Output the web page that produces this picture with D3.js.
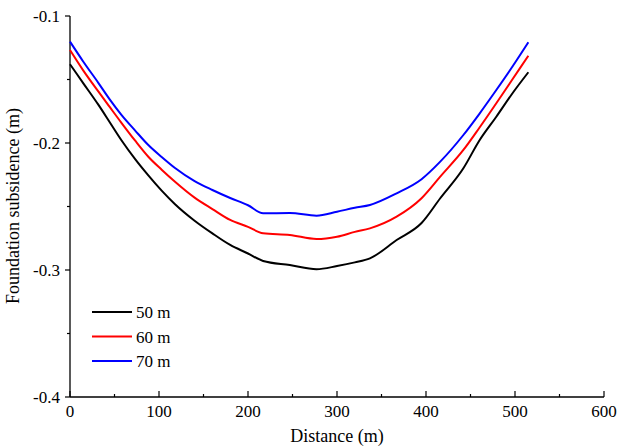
<!DOCTYPE html>
<html>
<head>
<meta charset="utf-8">
<script src="https://cdn.jsdelivr.net/npm/d3@7"></script>
<style>
  body { margin: 0; background: #fff; }
</style>
</head>
<body>
<div class="canva"></div>
<script>
// distance along the section (m)
const distance = [0, 15, 32, 45, 58, 73, 88, 103, 118, 140, 160, 180, 200, 217, 247, 277, 300, 320, 337, 367, 395, 416, 442, 460, 479, 497, 515]
// subsidence (m) for each depth
const s50 = [-0.138, -0.153, -0.170, -0.184, -0.198, -0.2125, -0.2255, -0.2375, -0.2482, -0.2612, -0.2712, -0.2803, -0.287, -0.2929, -0.2961, -0.2994, -0.2969, -0.294, -0.2908, -0.2764, -0.263, -0.2435, -0.2199, -0.198, -0.1793, -0.161, -0.1443]
const s60 = [-0.1268, -0.143, -0.1596, -0.172, -0.1843, -0.198, -0.2108, -0.221, -0.2305, -0.243, -0.252, -0.2606, -0.266, -0.2711, -0.2724, -0.2756, -0.2738, -0.270, -0.2672, -0.258, -0.2435, -0.2265, -0.2055, -0.188, -0.1687, -0.150, -0.1313]
const s70 = [-0.1202, -0.136, -0.1528, -0.166, -0.178, -0.190, -0.2016, -0.211, -0.2197, -0.230, -0.237, -0.2433, -0.249, -0.2554, -0.2551, -0.2572, -0.2541, -0.251, -0.2488, -0.2396, -0.2285, -0.2147, -0.1937, -0.177, -0.1583, -0.140, -0.1207]
const seriesNames = ['50 m', '60 m', '70 m']
const seriesColors = ['#000000', '#ff0000', '#0000ff']
const xTicks = [0, 100, 200, 300, 400, 500, 600]
const yTicks = [-0.1, -0.2, -0.3, -0.4]

const series = [s50, s60, s70]

const svg = d3.select('.canva').append('svg')
    .attr('width', 617)
    .attr('height', 447)
    .attr('font-family', '"Liberation Serif", "Times New Roman", serif')

const x = d3.scaleLinear().domain([0, 600]).range([70, 604])
const y = d3.scaleLinear().domain([-0.4, -0.1]).range([397, 16])

//x axis, ticks pointing inward
const xAxis = svg.append('g').attr('transform', 'translate(0,397)')
xAxis.append('line')
    .attr('x1', x(0)).attr('x2', x(600))
    .attr('stroke', '#000').attr('stroke-width', 1.3)
xAxis.selectAll('.major').data(xTicks).enter().append('line')
    .attr('x1', d => x(d)).attr('x2', d => x(d))
    .attr('y1', 0).attr('y2', -6)
    .attr('stroke', '#000').attr('stroke-width', 1.2)
xAxis.selectAll('.minor').data(d3.range(50, 600, 100)).enter().append('line')
    .attr('x1', d => x(d)).attr('x2', d => x(d))
    .attr('y1', 0).attr('y2', -3)
    .attr('stroke', '#000').attr('stroke-width', 1.2)
xAxis.selectAll('text').data(xTicks).enter().append('text')
    .text(d => d)
    .attr('x', d => x(d))
    .attr('y', 20)
    .attr('text-anchor', 'middle')
    .attr('font-size', 17)

//y axis, ticks pointing outward
const yAxis = svg.append('g').attr('transform', 'translate(70,0)')
yAxis.append('line')
    .attr('y1', y(-0.4)).attr('y2', y(-0.1))
    .attr('stroke', '#000').attr('stroke-width', 1.3)
yAxis.selectAll('.major').data(yTicks).enter().append('line')
    .attr('y1', d => y(d)).attr('y2', d => y(d))
    .attr('x1', 0).attr('x2', -5)
    .attr('stroke', '#000').attr('stroke-width', 1.2)
yAxis.selectAll('.minor').data([-0.15, -0.25, -0.35]).enter().append('line')
    .attr('y1', d => y(d)).attr('y2', d => y(d))
    .attr('x1', 0).attr('x2', -3)
    .attr('stroke', '#000').attr('stroke-width', 1.2)
yAxis.selectAll('text').data(yTicks).enter().append('text')
    .text(d => d.toFixed(1))
    .attr('x', -10)
    .attr('y', d => y(d) + 6)
    .attr('text-anchor', 'end')
    .attr('font-size', 17)

//titles
svg.append('text')
    .text('Distance (m)')
    .attr('x', 337).attr('y', 442)
    .attr('text-anchor', 'middle')
    .attr('font-size', 18)
svg.append('text')
    .text('Foundation subsidence (m)')
    .attr('transform', 'translate(19,206) rotate(-90)')
    .attr('text-anchor', 'middle')
    .attr('font-size', 18)

//lines
const line = d3.line()
    .x((d, i) => x(distance[i]))
    .y(d => y(d))
    .curve(d3.curveMonotoneX)
svg.selectAll('.curve').data(series).enter().append('path')
    .attr('d', line)
    .attr('fill', 'none')
    .attr('stroke', (d, i) => seriesColors[i])
    .attr('stroke-width', 2)
    .attr('stroke-linejoin', 'round')

//legend
const legend = svg.selectAll('.legend').data(seriesNames).enter().append('g')
    .attr('transform', (d, i) => `translate(92,${312 + i * 24.5})`)
legend.append('line')
    .attr('x1', 0).attr('x2', 40)
    .attr('stroke', (d, i) => seriesColors[i])
    .attr('stroke-width', 2)
legend.append('text')
    .text(d => d)
    .attr('x', 44).attr('y', 6)
    .attr('font-size', 17)
</script>
</body>
</html>
